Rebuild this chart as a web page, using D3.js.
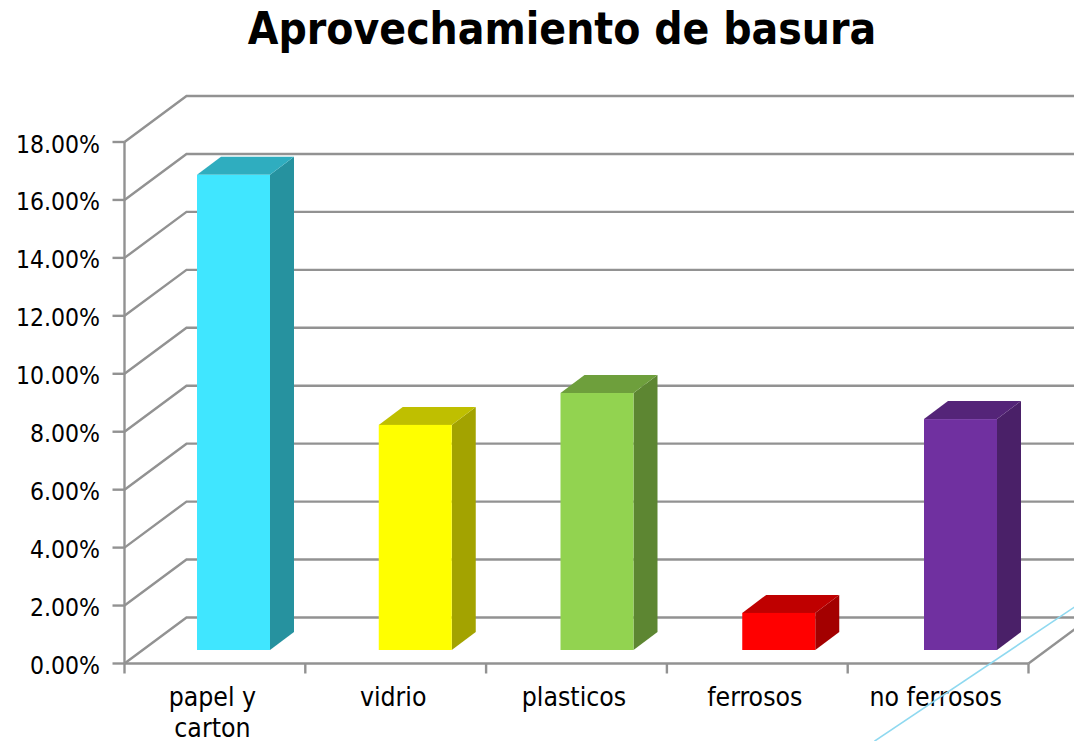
<!DOCTYPE html>
<html><head><meta charset="utf-8">
<script src="https://cdn.jsdelivr.net/npm/d3@7"></script>
<style>html,body{margin:0;background:#fff;overflow:hidden}svg{display:block}
text{fill:#000;font-family:"DejaVu Sans Condensed","DejaVu Sans",sans-serif}</style></head><body>
<script>
const chartTitle = "Aprovechamiento de basura";
const categories = [["papel y","carton"],["vidrio"],["plasticos"],["ferrosos"],["no ferrosos"]];
const values = [16.4,7.77,8.87,1.28,7.97];
const frontColors = ["#40E6FF","#FFFF00","#92D350","#FF0000","#7030A0"];
const topColors = ["#2FADBF","#BFBF00","#6E9F3C","#BF0000","#542478"];
const sideColors = ["#26929F","#A3A300","#5D8632","#A30000","#4A2068"];
const yTicks = d3.range(0,19,2);
const annotation = [[4.148,-2.68],[5.255,1.95]];

const W=1074,H=741;
const svg=d3.select("body").append("svg").attr("width",W).attr("height",H);
const x=d3.scaleLinear().domain([0,5]).range([124.5,1028.5]);
const y=d3.scaleLinear().domain([0,18]).range([663.5,142]);
const barX=d3.scaleLinear().domain([0,4]).range([197,924]);
const depthX=62,depthY=-46;
const grey="#929292";

svg.append("text").attr("x",562).attr("y",44).attr("text-anchor","middle")
  .style("font-weight","bold").style("font-size","44px").text(chartTitle);

const grid=svg.append("g").attr("fill","none").attr("stroke",grey).attr("stroke-width",2.4);
yTicks.forEach(t=>{
  grid.append("path").attr("d",d3.line()([[x(0),y(t)],[x(0)+depthX,y(t)+depthY],[W+5,y(t)+depthY]]));
  grid.append("line").attr("x1",x(0)-12).attr("x2",x(0)).attr("y1",y(t)).attr("y2",y(t));
});
grid.append("line").attr("x1",x(0)).attr("x2",x(0)).attr("y1",y(18)).attr("y2",y(0));
grid.append("line").attr("x1",x(0)).attr("x2",x(5)).attr("y1",y(0)).attr("y2",y(0));
d3.range(0,6).forEach(i=>grid.append("line").attr("x1",x(i)).attr("x2",x(i)).attr("y1",y(0)).attr("y2",y(0)+10));
grid.append("line").attr("x1",x(5)).attr("y1",y(0)).attr("x2",x(5)+depthX).attr("y2",y(0)+depthY);

const barW=73, dx=24, dy=-18, baseLift=13.5;
const bars=svg.append("g").selectAll("g").data(values).join("g");
bars.each(function(v,i){
  const g=d3.select(this);
  const b=y(0)-baseLift, t=b-(y(0)-y(v));
  const L=barX(i), R=L+barW;
  g.append("polygon").attr("fill",sideColors[i]).attr("points",[[R,t],[R+dx,t+dy],[R+dx,b+dy],[R,b]].join(" "));
  g.append("polygon").attr("fill",topColors[i]).attr("points",[[L,t],[L+dx,t+dy],[R+dx,t+dy],[R,t]].join(" "));
  g.append("rect").attr("x",L).attr("y",t).attr("width",barW).attr("height",b-t).attr("fill",frontColors[i]);
});

svg.append("g").selectAll("text").data(yTicks).join("text")
  .attr("x",100).attr("y",d=>y(d)+10.5).attr("text-anchor","end").style("font-size","24.5px")
  .text(d=>d.toFixed(2)+"%");
const labels=svg.append("g").selectAll("text").data(categories).join("text")
  .attr("text-anchor","middle").style("font-size","26.4px");
labels.each(function(c,i){
  c.forEach((s,k)=>d3.select(this).append("tspan").attr("x",x(i+0.5)-2.5).attr("y",705.5+k*31).text(s));
});

svg.append("path").attr("d",d3.line().x(d=>x(d[0])).y(d=>y(d[1]))(annotation))
  .attr("stroke","#8FD9F0").attr("stroke-width",1.6).attr("fill","none");
</script></body></html>
